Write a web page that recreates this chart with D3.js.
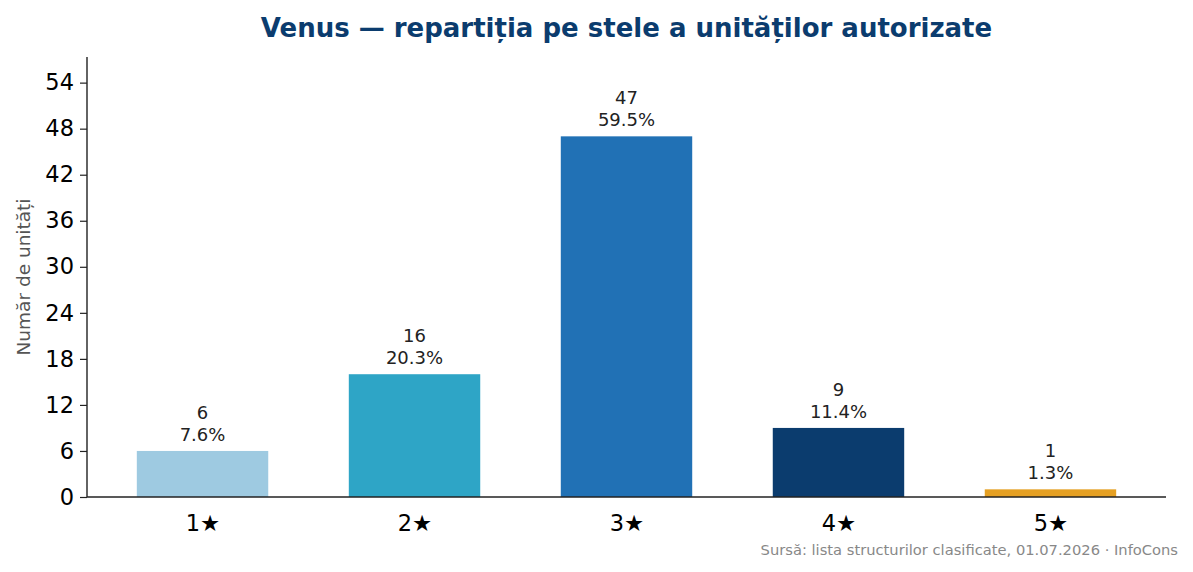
<!DOCTYPE html>
<html>
<head>
<meta charset="utf-8">
<script src="https://cdn.jsdelivr.net/npm/d3@7"></script>
<style>
  body { margin: 0; background: #fff; }
  svg { display: block; font-family: "DejaVu Sans", sans-serif; }
</style>
</head>
<body>
<div id="chart"></div>
<script>
// data
const categories = ['1★', '2★', '3★', '4★', '5★'];
const counts = [6, 16, 47, 9, 1];
const shares = ['7.6%', '20.3%', '59.5%', '11.4%', '1.3%'];
const colors = ['#9ecae1', '#2ea5c6', '#2171b5', '#0b3c6e', '#e5a023'];
const yTicks = [0, 6, 12, 18, 24, 30, 36, 42, 48, 54];

const W = 1193, H = 572;
const margin = {top: 57, right: 27, bottom: 75, left: 87};
const width = W - margin.left - margin.right;
const height = H - margin.top - margin.bottom;

const svg = d3.select('#chart').append('svg')
  .attr('width', W).attr('height', H);

const g = svg.append('g')
  .attr('transform', `translate(${margin.left},${margin.top})`);

const x = d3.scaleLinear()
  .domain([-0.545, categories.length - 1 + 0.545])
  .range([0, width]);
const barW = x(0.31) - x(-0.31);

const y = d3.scaleLinear()
  .domain([0, d3.max(counts) * 1.22])
  .range([height, 0]);

// bars
g.selectAll('rect.bar')
  .data(counts)
  .join('rect')
  .attr('class', 'bar')
  .attr('x', (d, i) => x(i) - barW / 2)
  .attr('width', barW)
  .attr('y', d => y(d))
  .attr('height', d => height - y(d))
  .attr('fill', (d, i) => colors[i]);

// value labels
const lab = g.selectAll('text.lab')
  .data(counts)
  .join('text')
  .attr('class', 'lab')
  .attr('text-anchor', 'middle')
  .attr('font-size', 18)
  .attr('fill', '#222');
lab.append('tspan')
  .attr('x', (d, i) => x(i))
  .attr('y', d => y(d) - 32)
  .text(d => d);
lab.append('tspan')
  .attr('x', (d, i) => x(i))
  .attr('y', d => y(d) - 10)
  .text((d, i) => shares[i]);

// y axis
const yAxis = g.append('g')
  .call(d3.axisLeft(y).tickValues(yTicks).tickSize(7).tickPadding(6));
yAxis.select('.domain').attr('stroke', '#222').attr('stroke-width', 1.4)
  .attr('d', `M0,${height}V0`);
yAxis.selectAll('.tick line').attr('stroke', '#222').attr('stroke-width', 1.2);
yAxis.selectAll('.tick text')
  .attr('font-size', 22.5).attr('fill', '#000')
  .attr('font-family', '"DejaVu Sans", sans-serif');

// x axis
const xAxis = g.append('g')
  .attr('transform', `translate(0,${height})`)
  .call(d3.axisBottom(x).tickValues(d3.range(categories.length))
    .tickFormat(i => categories[i]).tickSize(0).tickPadding(18));
xAxis.select('.domain').attr('stroke', '#222').attr('stroke-width', 1.4)
  .attr('d', `M0,0H${width}`);
xAxis.selectAll('.tick text')
  .attr('font-size', 22.5).attr('fill', '#000')
  .attr('font-family', '"DejaVu Sans", sans-serif');

// y label
svg.append('text')
  .attr('transform', `translate(30,${margin.top + height / 2}) rotate(-90)`)
  .attr('text-anchor', 'middle')
  .attr('font-size', 18.5)
  .attr('fill', '#555')
  .text('Număr de unități');

// title
svg.append('text')
  .attr('x', margin.left + width / 2)
  .attr('y', 37)
  .attr('text-anchor', 'middle')
  .attr('font-size', 26)
  .attr('font-weight', 'bold')
  .attr('fill', '#0b3c6e')
  .text('Venus — repartiția pe stele a unităților autorizate');

// source
svg.append('text')
  .attr('x', 1178)
  .attr('y', 555)
  .attr('text-anchor', 'end')
  .attr('font-size', 14.7)
  .attr('fill', '#888')
  .text('Sursă: lista structurilor clasificate, 01.07.2026 · InfoCons');
</script>
</body>
</html>
